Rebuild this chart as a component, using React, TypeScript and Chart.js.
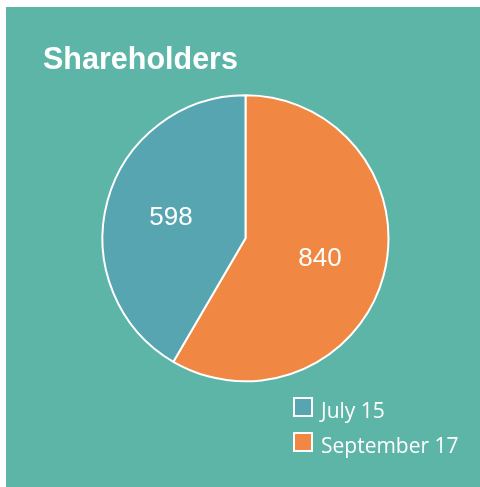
import React, { useEffect, useRef } from "react";
import { Chart, registerables } from "chart.js";

Chart.register(...registerables);

// Data
const categories = ["September 17", "July 15"];
const shareholders = [840, 598];
const sliceColors = ["#f08742", "#57a5b0"];
const legendOrder = [1, 0]; // legend lists July 15 first
const titleText = "Shareholders";

const BG = "#5db5a8";

const labelPlugin = {
  id: "sliceLabels",
  afterDatasetsDraw(chart: any) {
    const ctx = chart.ctx;
    const meta = chart.getDatasetMeta(0);
    ctx.save();
    ctx.fillStyle = "#ffffff";
    ctx.font = "26px 'Liberation Sans', Arial, sans-serif";
    ctx.textAlign = "center";
    ctx.textBaseline = "middle";
    meta.data.forEach((arc: any, i: number) => {
      const { x, y, startAngle, endAngle, outerRadius } = arc.getProps(
        ["x", "y", "startAngle", "endAngle", "outerRadius"],
        true
      );
      const mid = (startAngle + endAngle) / 2;
      const r = outerRadius * 0.54;
      ctx.fillText(String(shareholders[i]), x + Math.cos(mid) * r, y + Math.sin(mid) * r);
    });
    ctx.restore();
  },
};

export default function App() {
  const canvasRef = useRef<HTMLCanvasElement | null>(null);

  useEffect(() => {
    if (!canvasRef.current) return;
    const chart = new Chart(canvasRef.current, {
      type: "pie",
      data: {
        labels: categories,
        datasets: [
          {
            data: shareholders,
            backgroundColor: sliceColors,
            borderColor: "#ffffff",
            borderWidth: 2,
          },
        ],
      },
      options: {
        animation: false,
        responsive: true,
        maintainAspectRatio: false,
        radius: 143,
        layout: { padding: { left: 37, right: 32, top: 10, bottom: 95 } },
        plugins: {
          legend: { display: false },
          tooltip: { enabled: false },
          title: {
            display: true,
            text: titleText,
            align: "start",
            color: "#ffffff",
            font: { family: "'Liberation Sans', Arial, sans-serif", size: 30.5, weight: "bold", lineHeight: 1.2 },
            padding: { top: 25, bottom: 6 },
          },
        },
      } as any,
      plugins: [labelPlugin],
    });
    return () => chart.destroy();
  }, []);

  return (
    <div
      style={{
        position: "absolute",
        left: 6,
        top: 7,
        width: 474,
        height: 480,
        background: BG,
      }}
    >
      <div style={{ position: "absolute", left: 0, top: 0, width: 474, height: 480 }}>
        <canvas ref={canvasRef} />
      </div>
      {legendOrder.map((idx, row) => (
        <div
          key={categories[idx]}
          style={{
            position: "absolute",
            left: 287,
            top: 390 + row * 35,
            height: 20,
            display: "flex",
            alignItems: "flex-start",
            fontFamily: "'Open Sans', sans-serif",
            fontSize: 21,
            color: "#ffffff",
            whiteSpace: "nowrap",
          }}
        >
          <span
            style={{
              display: "inline-block",
              width: 20,
              height: 20,
              boxSizing: "border-box",
              border: "2px solid #ffffff",
              background: sliceColors[idx],
            }}
          />
          <span style={{ marginLeft: 8, lineHeight: "20px", position: "relative", top: 3 }}>
            {categories[idx]}
          </span>
        </div>
      ))}
    </div>
  );
}
